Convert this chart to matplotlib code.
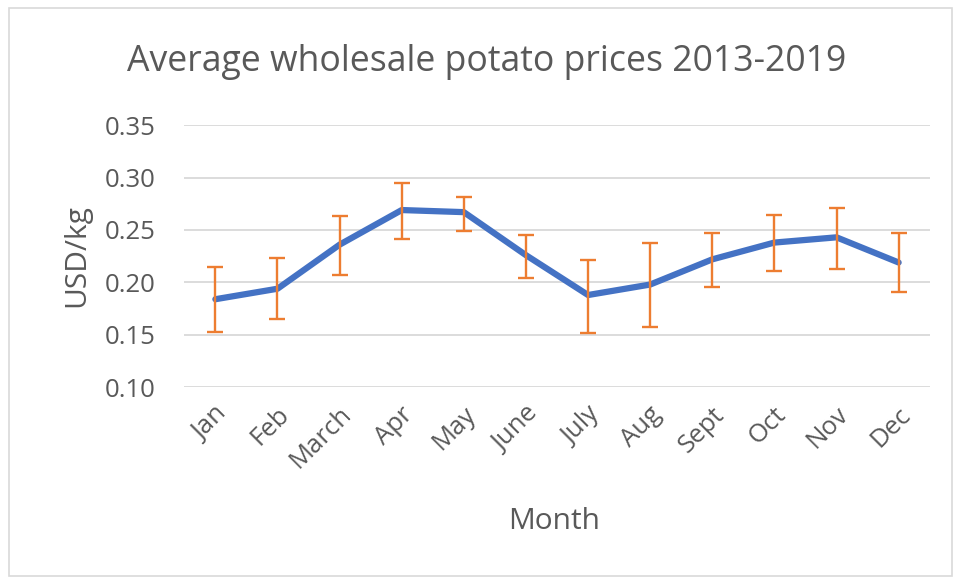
import matplotlib.pyplot as plt
import matplotlib.transforms as mtransforms
from matplotlib.patches import Rectangle

# Данные с графика
months = ["Jan", "Feb", "March", "Apr", "May", "June", "July", "Aug", "Sept", "Oct", "Nov", "Dec"]
price = [0.184, 0.194, 0.236, 0.269, 0.267, 0.226, 0.188, 0.198, 0.222, 0.238, 0.243, 0.219]
err_top = [0.215, 0.223, 0.263, 0.295, 0.281, 0.245, 0.221, 0.238, 0.247, 0.264, 0.271, 0.247]
err_bottom = [0.153, 0.165, 0.207, 0.241, 0.249, 0.204, 0.152, 0.158, 0.196, 0.211, 0.213, 0.191]

lower = [p - b for p, b in zip(price, err_bottom)]
upper = [t - p for p, t in zip(price, err_top)]

plt.rcParams['font.family'] = ['Open Sans', 'DejaVu Sans']
grey = '#595959'

fig = plt.figure(figsize=(9.55, 5.79), dpi=100)
ax = fig.add_axes([0.193, 0.331, 0.7805, 0.453])

x = list(range(len(months)))
ax.plot(x, price, color='#4472C4', lw=4.5, solid_capstyle='round', zorder=3)
ax.errorbar(x, price, yerr=[lower, upper], fmt='none', ecolor='#ED7D31',
            elinewidth=1.7, capsize=5.5, capthick=1.7, zorder=4)

ax.set_xlim(-0.5, len(months) - 0.5)
ax.set_ylim(0.10, 0.35)
yt = [0.10, 0.15, 0.20, 0.25, 0.30, 0.35]
ax.set_yticks(yt)
ax.set_yticklabels([f"{v:.2f}" for v in yt])
ax.set_xticks(x)
ax.set_xticklabels(months, rotation=45, ha='right', va='center', rotation_mode='anchor')
ax.tick_params(length=0, labelsize=18.5, colors=grey)
ax.tick_params(axis='y', pad=21)
ax.tick_params(axis='x', pad=17)

# сдвиг подписей месяцев немного вправо, как в Excel
shift = mtransforms.ScaledTranslation(8 / 100, 0, fig.dpi_scale_trans)
for lbl in ax.get_xticklabels():
    lbl.set_transform(lbl.get_transform() + shift)

ax.grid(axis='y', color='#D9D9D9', lw=1.3)
ax.set_axisbelow(True)
for s in ax.spines.values():
    s.set_visible(False)

fig.text(0.51, 0.893, "Average wholesale potato prices 2013-2019", ha='center', va='center',
         fontsize=25.7, color=grey)
fig.text(0.58, 0.10, "Month", ha='center', va='center', fontsize=21.5, color=grey)
fig.text(0.08, 0.558, "USD/kg", ha='center', va='center', rotation=90, fontsize=21.5, color=grey)

fig.patches.append(Rectangle((0.009, 0.005), 0.988, 0.981, transform=fig.transFigure,
                             fill=False, edgecolor='#D9D9D9', lw=1.2))

fig.savefig("out.png", dpi=100)
